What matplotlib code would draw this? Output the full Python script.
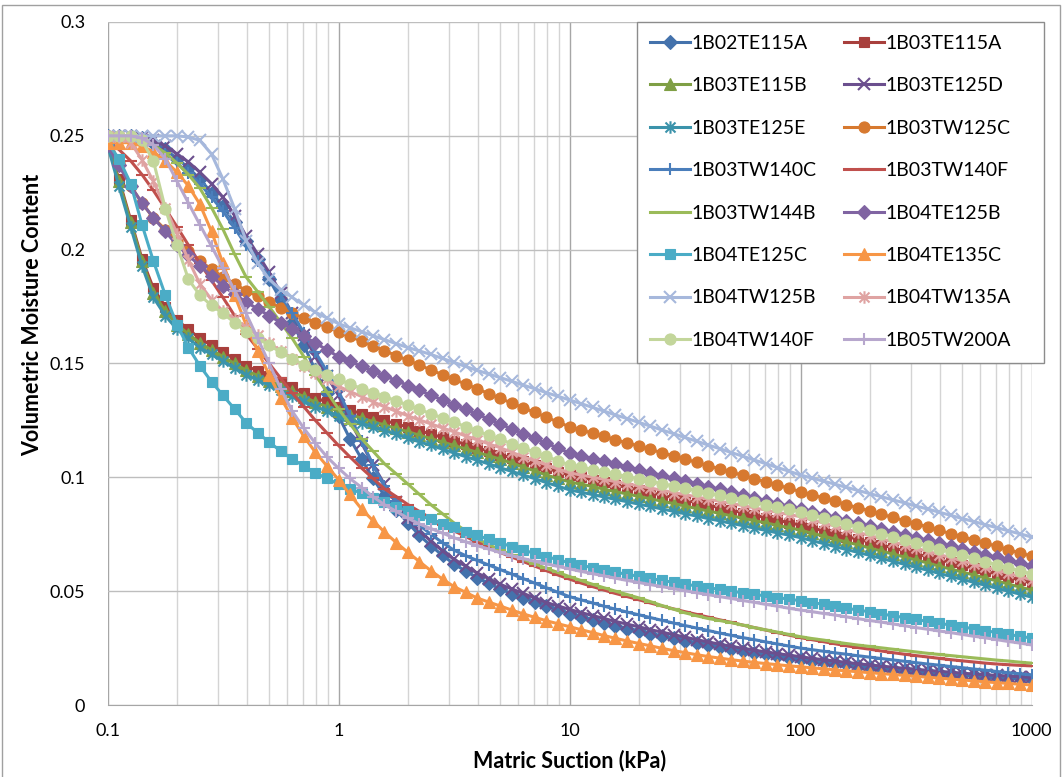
import matplotlib
matplotlib.use("Agg")
import matplotlib.pyplot as plt
from matplotlib.path import Path
from matplotlib.patches import Rectangle
from matplotlib.ticker import FixedLocator, NullFormatter

plt.rcParams['font.family'] = ['Lato', 'DejaVu Sans']

# ---------------- data ----------------
suction = [0.1, 0.112, 0.126, 0.141, 0.158, 0.178, 0.2, 0.224, 0.251, 0.282,
           0.316, 0.355, 0.398, 0.447, 0.501, 0.562, 0.631, 0.708, 0.794, 0.891,
           1, 1.12, 1.26, 1.41, 1.58, 1.78, 2, 2.24, 2.51, 2.82,
           3.16, 3.55, 3.98, 4.47, 5.01, 5.62, 6.31, 7.08, 7.94, 8.91,
           10, 11.2, 12.6, 14.1, 15.8, 17.8, 20, 22.4, 25.1, 28.2,
           31.6, 35.5, 39.8, 44.7, 50.1, 56.2, 63.1, 70.8, 79.4, 89.1,
           100, 112, 126, 141, 158, 178, 200, 224, 251, 282,
           316, 355, 398, 447, 501, 562, 631, 708, 794, 891, 1000]

names = ["1B02TE115A", "1B03TE115A", "1B03TE115B", "1B03TE125D",
         "1B03TE125E", "1B03TW125C", "1B03TW140C", "1B03TW140F",
         "1B03TW144B", "1B04TE125B", "1B04TE125C", "1B04TE135C",
         "1B04TW125B", "1B04TW135A", "1B04TW140F", "1B05TW200A"]

th_1B02TE115A = [0.25, 0.25, 0.25, 0.249, 0.247, 0.244, 0.240, 0.236, 0.231, 0.225,
                 0.219, 0.212, 0.204, 0.196, 0.187, 0.178, 0.168, 0.158, 0.147, 0.137,
                 0.127, 0.117, 0.108, 0.0995, 0.092, 0.0855, 0.080, 0.0745, 0.070, 0.0657,
                 0.062, 0.0588, 0.056, 0.0534, 0.051, 0.0489, 0.047, 0.0452, 0.0435, 0.0417,
                 0.040, 0.0386, 0.0373, 0.036, 0.0348, 0.0336, 0.0325, 0.0314, 0.0303, 0.0293,
                 0.0283, 0.0273, 0.0264, 0.0255, 0.0246, 0.0238, 0.023, 0.0222, 0.0215, 0.0208,
                 0.0201, 0.0195, 0.0189, 0.0183, 0.0178, 0.0172, 0.0167, 0.0162, 0.0158, 0.0153,
                 0.0149, 0.0145, 0.0141, 0.0137, 0.0133, 0.013, 0.0126, 0.0123, 0.012, 0.0117, 0.0114]
th_1B03TE115A = [0.247, 0.231, 0.213, 0.196, 0.183, 0.175, 0.169, 0.165, 0.161, 0.158,
                 0.155, 0.152, 0.149, 0.1467, 0.1445, 0.142, 0.1395, 0.1372, 0.135, 0.133,
                 0.131, 0.1295, 0.128, 0.1265, 0.125, 0.1235, 0.122, 0.1205, 0.119, 0.1175,
                 0.116, 0.1145, 0.113, 0.1115, 0.110, 0.1085, 0.107, 0.1055, 0.104, 0.1025,
                 0.101, 0.100, 0.099, 0.0978, 0.0966, 0.0955, 0.0944, 0.0933, 0.0922, 0.0911,
                 0.090, 0.0889, 0.0878, 0.0867, 0.0856, 0.0845, 0.0834, 0.0823, 0.0812, 0.0801,
                 0.079, 0.0778, 0.0765, 0.0753, 0.074, 0.0728, 0.0715, 0.0703, 0.069, 0.0677,
                 0.0664, 0.0651, 0.0638, 0.0626, 0.0613, 0.0601, 0.0588, 0.0575, 0.0562, 0.0549, 0.0536]
th_1B03TE115B = [0.247, 0.230, 0.212, 0.195, 0.181, 0.173, 0.167, 0.163, 0.159, 0.156,
                 0.153, 0.150, 0.147, 0.1447, 0.1425, 0.140, 0.1378, 0.1354, 0.133, 0.131,
                 0.129, 0.1275, 0.126, 0.1245, 0.123, 0.1215, 0.120, 0.1185, 0.117, 0.1155,
                 0.114, 0.1125, 0.111, 0.1095, 0.108, 0.1063, 0.1045, 0.1028, 0.101, 0.0995,
                 0.098, 0.097, 0.096, 0.0948, 0.0937, 0.0927, 0.0916, 0.0906, 0.0895, 0.0885,
                 0.0874, 0.0863, 0.0852, 0.0842, 0.0831, 0.0821, 0.081, 0.080, 0.0789, 0.0779,
                 0.0768, 0.0755, 0.0742, 0.0729, 0.0716, 0.0703, 0.0689, 0.0676, 0.0663, 0.065,
                 0.0637, 0.0624, 0.061, 0.0597, 0.0584, 0.0571, 0.0558, 0.0545, 0.0531, 0.0518, 0.0505]
th_1B03TE125D = [0.25, 0.25, 0.25, 0.2495, 0.248, 0.2455, 0.242, 0.2385, 0.234, 0.229,
                 0.223, 0.215, 0.206, 0.198, 0.190, 0.181, 0.172, 0.1625, 0.153, 0.1445,
                 0.136, 0.125, 0.115, 0.1055, 0.097, 0.089, 0.082, 0.0765, 0.072, 0.0677,
                 0.064, 0.061, 0.058, 0.0555, 0.053, 0.051, 0.049, 0.047, 0.045, 0.0435,
                 0.042, 0.0406, 0.0393, 0.038, 0.0367, 0.0355, 0.0343, 0.0331, 0.032, 0.0309,
                 0.0298, 0.0287, 0.0277, 0.0267, 0.0258, 0.0249, 0.0241, 0.0233, 0.0226, 0.0219,
                 0.0212, 0.0205, 0.0199, 0.0193, 0.0187, 0.0181, 0.0176, 0.0171, 0.0166, 0.0161,
                 0.0157, 0.0152, 0.0148, 0.0144, 0.014, 0.0136, 0.0133, 0.013, 0.0127, 0.0124, 0.0121]
th_1B03TE125E = [0.246, 0.228, 0.210, 0.193, 0.179, 0.171, 0.165, 0.161, 0.157, 0.154,
                 0.151, 0.148, 0.145, 0.1427, 0.1405, 0.1382, 0.1358, 0.1334, 0.131, 0.129,
                 0.127, 0.1254, 0.1237, 0.1221, 0.1205, 0.1189, 0.1172, 0.1156, 0.114, 0.1124,
                 0.1107, 0.1091, 0.1075, 0.1059, 0.1042, 0.1026, 0.101, 0.0994, 0.0977, 0.0961,
                 0.0945, 0.0935, 0.0924, 0.0914, 0.0903, 0.0893, 0.0882, 0.0872, 0.0861, 0.0851,
                 0.084, 0.083, 0.0819, 0.0809, 0.0798, 0.0788, 0.0777, 0.0767, 0.0756, 0.0746,
                 0.0735, 0.0722, 0.0709, 0.0696, 0.0683, 0.067, 0.0657, 0.0644, 0.0631, 0.0618,
                 0.0605, 0.0592, 0.0578, 0.0565, 0.0552, 0.0539, 0.0526, 0.0513, 0.050, 0.0487, 0.0474]
th_1B03TW125C = [0.25, 0.238, 0.228, 0.2205, 0.214, 0.2088, 0.204, 0.1995, 0.195, 0.1915,
                 0.188, 0.185, 0.182, 0.1795, 0.177, 0.1745, 0.172, 0.170, 0.168, 0.166,
                 0.164, 0.1619, 0.1598, 0.1577, 0.1556, 0.1535, 0.1514, 0.1493, 0.1472, 0.1451,
                 0.143, 0.141, 0.1389, 0.1368, 0.1347, 0.1326, 0.1305, 0.1285, 0.1264, 0.1243,
                 0.1222, 0.1208, 0.1194, 0.118, 0.1165, 0.1151, 0.1137, 0.1123, 0.1108, 0.1094,
                 0.108, 0.1066, 0.1051, 0.1037, 0.1023, 0.1009, 0.0994, 0.098, 0.0966, 0.0952,
                 0.0937, 0.0923, 0.0909, 0.0895, 0.088, 0.0866, 0.0852, 0.0838, 0.0824, 0.081,
                 0.0796, 0.0782, 0.0767, 0.0753, 0.0739, 0.0725, 0.0711, 0.0697, 0.0682, 0.0668, 0.0654]
th_1B03TW140C = [0.25, 0.25, 0.25, 0.2485, 0.246, 0.242, 0.238, 0.2335, 0.229, 0.223,
                 0.217, 0.2095, 0.202, 0.195, 0.188, 0.180, 0.172, 0.1635, 0.155, 0.1465,
                 0.138, 0.127, 0.116, 0.1055, 0.096, 0.0895, 0.084, 0.079, 0.075, 0.0713,
                 0.068, 0.0656, 0.0635, 0.0615, 0.0595, 0.0575, 0.0555, 0.0535, 0.0515, 0.0495,
                 0.0476, 0.0462, 0.0448, 0.0434, 0.0421, 0.0408, 0.0396, 0.0384, 0.0372, 0.036,
                 0.0349, 0.0338, 0.0327, 0.0316, 0.0306, 0.0296, 0.0287, 0.0277, 0.0268, 0.0259,
                 0.025, 0.0243, 0.0236, 0.0229, 0.0223, 0.0216, 0.021, 0.0204, 0.0198, 0.0192,
                 0.0186, 0.018, 0.0175, 0.0169, 0.0164, 0.0158, 0.0153, 0.0147, 0.0142, 0.0137, 0.0132]
th_1B03TW140F = [0.248, 0.244, 0.239, 0.233, 0.226, 0.218, 0.210, 0.202, 0.194, 0.1865,
                 0.179, 0.171, 0.163, 0.1565, 0.150, 0.1435, 0.137, 0.131, 0.125, 0.1195,
                 0.114, 0.109, 0.104, 0.0995, 0.095, 0.0915, 0.088, 0.085, 0.082, 0.0792,
                 0.0765, 0.074, 0.0715, 0.0692, 0.067, 0.065, 0.063, 0.061, 0.059, 0.0571,
                 0.0553, 0.0536, 0.052, 0.0505, 0.049, 0.0476, 0.0462, 0.0448, 0.0435, 0.0422,
                 0.041, 0.0398, 0.0386, 0.0374, 0.0363, 0.0351, 0.034, 0.0329, 0.0318, 0.0307,
                 0.0296, 0.0287, 0.0278, 0.0269, 0.026, 0.0252, 0.0245, 0.0237, 0.023, 0.0223,
                 0.0217, 0.0211, 0.0205, 0.0199, 0.0194, 0.0189, 0.0184, 0.018, 0.0177, 0.0174, 0.0172]
th_1B03TW144B = [0.25, 0.25, 0.25, 0.2485, 0.246, 0.2425, 0.238, 0.233, 0.227, 0.2185,
                 0.209, 0.198, 0.188, 0.1815, 0.175, 0.168, 0.161, 0.153, 0.145, 0.1375,
                 0.130, 0.1235, 0.117, 0.1115, 0.106, 0.1015, 0.097, 0.0925, 0.088, 0.084,
                 0.080, 0.0765, 0.073, 0.0705, 0.068, 0.066, 0.064, 0.062, 0.060, 0.0582,
                 0.0564, 0.0547, 0.053, 0.0515, 0.050, 0.0485, 0.047, 0.0454, 0.0437, 0.0421,
                 0.0405, 0.0392, 0.038, 0.0371, 0.0362, 0.0351, 0.034, 0.033, 0.032, 0.031,
                 0.030, 0.0292, 0.0285, 0.0277, 0.027, 0.0263, 0.0257, 0.0251, 0.0245, 0.0239,
                 0.0233, 0.0227, 0.0222, 0.0217, 0.0212, 0.0207, 0.0202, 0.0197, 0.0193, 0.0188, 0.0184]
th_1B04TE125B = [0.246, 0.237, 0.228, 0.2205, 0.214, 0.208, 0.202, 0.1975, 0.193, 0.1885,
                 0.184, 0.1805, 0.177, 0.174, 0.171, 0.168, 0.165, 0.162, 0.159, 0.156,
                 0.153, 0.1509, 0.1488, 0.1467, 0.1446, 0.1425, 0.1403, 0.1382, 0.1361, 0.134,
                 0.1319, 0.1298, 0.1277, 0.1256, 0.1234, 0.1213, 0.1192, 0.1171, 0.115, 0.1129,
                 0.1107, 0.1095, 0.1082, 0.107, 0.1058, 0.1045, 0.1033, 0.1021, 0.1008, 0.0996,
                 0.0984, 0.0971, 0.0959, 0.0947, 0.0934, 0.0922, 0.0909, 0.0897, 0.0885, 0.0872,
                 0.086, 0.0848, 0.0835, 0.0823, 0.081, 0.0798, 0.0785, 0.0773, 0.076, 0.0748,
                 0.0735, 0.0723, 0.071, 0.0698, 0.0685, 0.0673, 0.066, 0.0648, 0.0635, 0.0623, 0.061]
th_1B04TE125C = [0.247, 0.240, 0.229, 0.211, 0.195, 0.180, 0.167, 0.157, 0.149, 0.142,
                 0.136, 0.130, 0.124, 0.1195, 0.1155, 0.1115, 0.108, 0.105, 0.102, 0.0995,
                 0.097, 0.095, 0.093, 0.091, 0.089, 0.087, 0.085, 0.0833, 0.0815, 0.0797,
                 0.078, 0.0762, 0.0745, 0.0728, 0.0712, 0.0696, 0.068, 0.0666, 0.0652, 0.0638,
                 0.0625, 0.0614, 0.0603, 0.0593, 0.0583, 0.0574, 0.0565, 0.0556, 0.0547, 0.0539,
                 0.0531, 0.0523, 0.0515, 0.0508, 0.050, 0.0493, 0.0486, 0.0479, 0.0472, 0.0465,
                 0.0458, 0.045, 0.0442, 0.0433, 0.0425, 0.0417, 0.0409, 0.040, 0.0392, 0.0384,
                 0.0376, 0.0367, 0.0359, 0.0351, 0.0343, 0.0335, 0.0327, 0.0318, 0.031, 0.0302, 0.0294]
th_1B04TE135C = [0.247, 0.247, 0.247, 0.2455, 0.243, 0.239, 0.234, 0.228, 0.220, 0.208,
                 0.194, 0.180, 0.167, 0.1555, 0.145, 0.135, 0.126, 0.118, 0.111, 0.105,
                 0.099, 0.0925, 0.086, 0.081, 0.076, 0.0713, 0.067, 0.063, 0.059, 0.0553,
                 0.052, 0.0495, 0.047, 0.0452, 0.0435, 0.0417, 0.040, 0.0385, 0.037, 0.0357,
                 0.0344, 0.0331, 0.0318, 0.0305, 0.0293, 0.0281, 0.027, 0.026, 0.0249, 0.0239,
                 0.023, 0.0221, 0.0213, 0.0206, 0.0199, 0.0193, 0.0187, 0.0182, 0.0177, 0.0172,
                 0.0168, 0.0163, 0.0159, 0.0154, 0.015, 0.0146, 0.0142, 0.0138, 0.0134, 0.013,
                 0.0126, 0.0122, 0.0118, 0.0114, 0.011, 0.0106, 0.0102, 0.0098, 0.0095, 0.0091, 0.0088]
th_1B04TW125B = [0.25, 0.25, 0.25, 0.25, 0.25, 0.25, 0.25, 0.2495, 0.248, 0.242,
                 0.231, 0.218, 0.204, 0.194, 0.187, 0.1825, 0.179, 0.1757, 0.1725, 0.170,
                 0.1675, 0.1657, 0.164, 0.1622, 0.1605, 0.1587, 0.157, 0.1555, 0.154, 0.1522,
                 0.1505, 0.1487, 0.147, 0.1454, 0.1438, 0.1422, 0.1405, 0.1389, 0.1372, 0.1356,
                 0.134, 0.1324, 0.1307, 0.1291, 0.1274, 0.1258, 0.1241, 0.1225, 0.1208, 0.1192,
                 0.1175, 0.1159, 0.1142, 0.1126, 0.1109, 0.1093, 0.1076, 0.106, 0.1043, 0.1027,
                 0.101, 0.0997, 0.0983, 0.097, 0.0956, 0.0942, 0.0928, 0.0915, 0.0901, 0.0888,
                 0.0874, 0.0861, 0.0847, 0.0833, 0.0819, 0.0806, 0.0792, 0.0779, 0.0765, 0.0752, 0.0738]
th_1B04TW135A = [0.25, 0.2495, 0.247, 0.2395, 0.230, 0.2185, 0.207, 0.1955, 0.185, 0.178,
                 0.173, 0.1695, 0.166, 0.1625, 0.159, 0.1555, 0.152, 0.149, 0.146, 0.143,
                 0.140, 0.1377, 0.1355, 0.1332, 0.131, 0.129, 0.127, 0.1252, 0.1235, 0.1217,
                 0.120, 0.1182, 0.1165, 0.1147, 0.113, 0.111, 0.109, 0.1072, 0.1055, 0.1037,
                 0.102, 0.101, 0.1001, 0.0991, 0.0981, 0.0972, 0.0962, 0.0953, 0.0943, 0.0933,
                 0.0924, 0.0914, 0.0904, 0.0895, 0.0885, 0.0876, 0.0866, 0.0856, 0.0846, 0.0837,
                 0.0827, 0.0813, 0.0799, 0.0786, 0.0772, 0.0758, 0.0744, 0.073, 0.0716, 0.0703,
                 0.0689, 0.0675, 0.0661, 0.0647, 0.0633, 0.0619, 0.0605, 0.0592, 0.0578, 0.0564, 0.055]
th_1B04TW140F = [0.25, 0.25, 0.25, 0.248, 0.239, 0.218, 0.202, 0.187, 0.180, 0.1755,
                 0.172, 0.168, 0.164, 0.161, 0.158, 0.155, 0.152, 0.1495, 0.147, 0.145,
                 0.143, 0.141, 0.139, 0.1372, 0.1355, 0.1336, 0.1317, 0.1298, 0.128, 0.1261,
                 0.1242, 0.1223, 0.1204, 0.1185, 0.1167, 0.1148, 0.1129, 0.111, 0.1092, 0.1073,
                 0.1054, 0.1044, 0.1034, 0.1024, 0.1013, 0.1003, 0.0993, 0.0983, 0.0972, 0.0962,
                 0.0952, 0.0942, 0.0931, 0.0921, 0.0911, 0.0901, 0.089, 0.088, 0.087, 0.086,
                 0.0849, 0.0835, 0.0822, 0.0808, 0.0794, 0.0781, 0.0767, 0.0753, 0.074, 0.0726,
                 0.0712, 0.0699, 0.0685, 0.0671, 0.0657, 0.0644, 0.063, 0.0616, 0.0603, 0.0589, 0.0575]
th_1B05TW200A = [0.25, 0.25, 0.25, 0.249, 0.246, 0.240, 0.230, 0.2205, 0.211, 0.2015,
                 0.192, 0.182, 0.172, 0.161, 0.150, 0.139, 0.129, 0.1215, 0.115, 0.109,
                 0.104, 0.0995, 0.0955, 0.0915, 0.088, 0.085, 0.082, 0.0795, 0.0775, 0.0755,
                 0.0735, 0.0717, 0.070, 0.0685, 0.067, 0.0656, 0.0643, 0.0631, 0.062, 0.0609,
                 0.0598, 0.0587, 0.0577, 0.0567, 0.0557, 0.0547, 0.0538, 0.0529, 0.052, 0.0511,
                 0.0502, 0.0493, 0.0485, 0.0476, 0.0468, 0.0459, 0.0451, 0.0442, 0.0434, 0.0425,
                 0.0417, 0.041, 0.0402, 0.0395, 0.0387, 0.0379, 0.0371, 0.0364, 0.0356, 0.0348,
                 0.034, 0.0333, 0.0325, 0.0318, 0.031, 0.0302, 0.0295, 0.0287, 0.0279, 0.0272, 0.0264]

series = [th_1B02TE115A, th_1B03TE115A, th_1B03TE115B, th_1B03TE125D,
          th_1B03TE125E, th_1B03TW125C, th_1B03TW140C, th_1B03TW140F,
          th_1B03TW144B, th_1B04TE125B, th_1B04TE125C, th_1B04TE135C,
          th_1B04TW125B, th_1B04TW135A, th_1B04TW140F, th_1B05TW200A]
for v in series:
    assert len(v) == len(suction), len(v)

# ---------------- styles ----------------
star = Path([(0, -1), (0, 1), (-0.8, -0.8), (0.8, 0.8), (-0.8, 0.8), (0.8, -0.8)],
            [Path.MOVETO, Path.LINETO, Path.MOVETO, Path.LINETO, Path.MOVETO, Path.LINETO])

colors = ["#4472AC", "#A83F3C", "#7F9F45", "#6B4F8E", "#3B93AB", "#D7792F",
          "#4A7EBB", "#C0504D", "#9BBB59", "#8064A2", "#4BACC6", "#F79646",
          "#A6B8DC", "#DFA3A2", "#C3D69B", "#B7A7CD"]
markers = ['D', 's', '^', 'x', star, 'o', '+', '_', '_', 'D', 's', '^', 'x', star, 'o', '+']
msizes = [7.5, 7, 8.5, 8.5, 9, 8, 9, 8.5, 8.5, 7.5, 7, 8.5, 8.5, 9, 8, 9]

W, H = 1063, 777
fig = plt.figure(figsize=(W / 100, H / 100), dpi=100)
ax = fig.add_axes([107.5 / W, 1 - 705 / H, (1031.5 - 107.5) / W, (705 - 22) / H])

lines = []
for name, vals, c, m, ms in zip(names, series, colors, markers, msizes):
    filled = m in ('D', 's', '^', 'o')
    ln, = ax.plot(suction, vals, color=c, lw=2.2, marker=m, markersize=ms,
                  markerfacecolor=c, markeredgecolor=c,
                  markeredgewidth=0.8 if filled else 1.5, label=name)
    lines.append(ln)

ax.set_xscale('log')
ax.set_xlim(0.1, 1000)
ax.set_ylim(0, 0.3)
ax.set_yticks([0, 0.05, 0.1, 0.15, 0.2, 0.25, 0.3])
ax.set_yticklabels(["0", "0.05", "0.1", "0.15", "0.2", "0.25", "0.3"])
ax.set_xticks([0.1, 1, 10, 100, 1000])
ax.set_xticklabels(["0.1", "1", "10", "100", "1000"])
ax.xaxis.set_minor_locator(FixedLocator([d * k for d in (0.1, 1, 10, 100) for k in range(2, 10)]))
ax.xaxis.set_minor_formatter(NullFormatter())
ax.tick_params(axis='both', which='both', length=0, labelsize=13, colors='black')
ax.tick_params(axis='y', pad=16)
ax.tick_params(axis='x', pad=13)
ax.grid(True, which='major', axis='y', color='#BEBEBE', lw=1.0)
ax.grid(True, which='major', axis='x', color='#A6A6A6', lw=1.0)
ax.grid(True, which='minor', axis='x', color='#D4D4D4', lw=1.0)
ax.set_axisbelow(True)
for s in ('top', 'right', 'left'):
    ax.spines[s].set_visible(False)
ax.spines['bottom'].set_color('#A6A6A6')

ax.set_xlabel("Matric Suction (kPa)", fontsize=15.5, fontweight='bold')
ax.set_ylabel("Volumetric Moisture Content", fontsize=15.5, fontweight='bold')
ax.xaxis.set_label_coords(0.5, (705 - 750) / 683)
ax.yaxis.set_label_coords((43 - 107.5) / 924, (705 - 315) / 683)

# legend: row-major order in two columns
order = list(range(0, 16, 2)) + list(range(1, 16, 2))
leg = ax.legend([lines[i] for i in order], [names[i] for i in order],
                loc='upper left', bbox_to_anchor=(637 / W, 1 - 22 / H),
                bbox_transform=fig.transFigure, ncol=2, fontsize=14,
                frameon=False, handlelength=2.05, handletextpad=0.1,
                columnspacing=1.4, labelspacing=1.31, borderpad=0.65,
                borderaxespad=0)
leg.set_zorder(6)
frame = Rectangle((637 / W, 1 - 363 / H), (1044 - 637) / W, (363 - 22) / H,
                  transform=fig.transFigure, facecolor='white', edgecolor='#8C8C8C',
                  lw=1.0, zorder=5, clip_on=False)
ax.add_artist(frame)

# outer chart border
fig.patches.append(Rectangle((2 / W, -0.01), 1058 / W, 1 - 5 / H + 0.01,
                             transform=fig.transFigure, fill=False,
                             edgecolor='#A0A0A0', lw=1.0))

fig.savefig("out.png", dpi=100)
